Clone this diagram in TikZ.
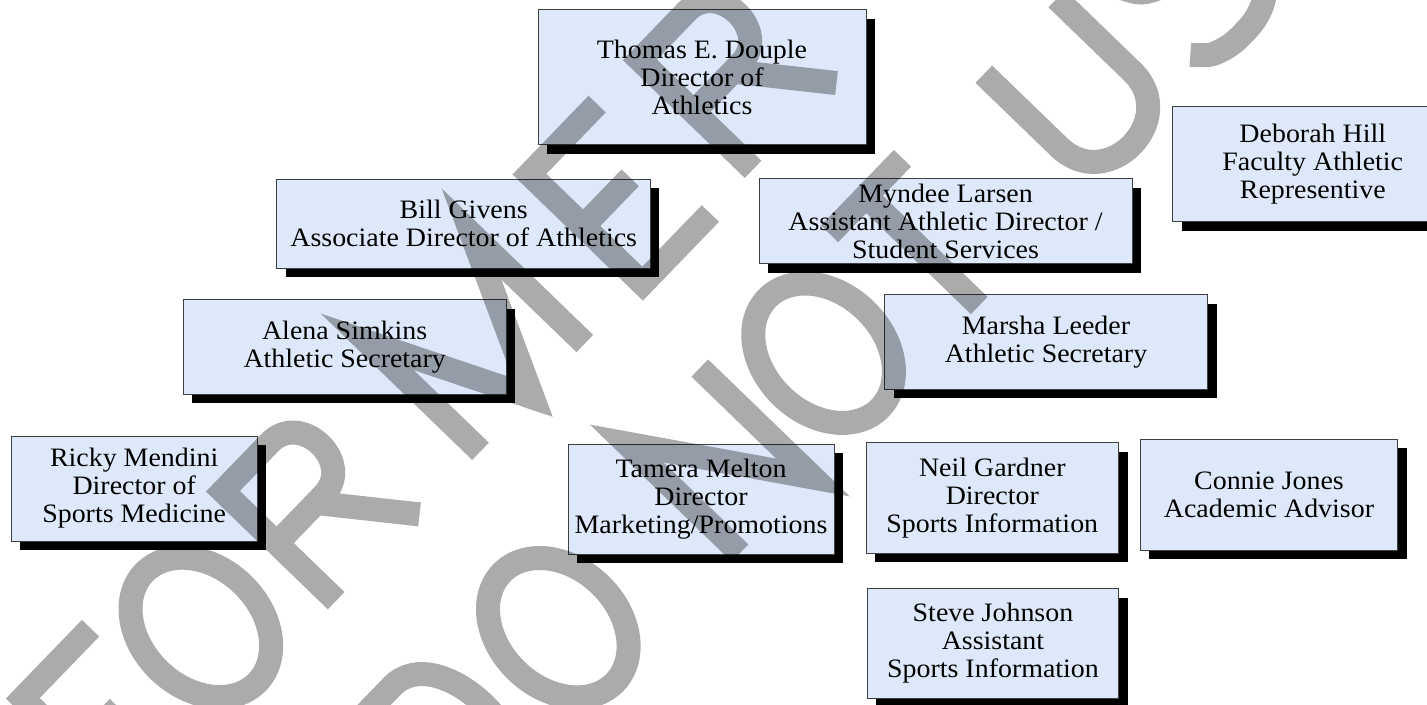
\documentclass[tikz,border=0pt]{standalone}
\usepackage{fontspec}
\setmainfont{Liberation Serif}[FakeStretch=1.05]
\usetikzlibrary{shadows}
\definecolor{boxblue}{RGB}{221,233,250}
\pgfdeclarelayer{background}
\pgfsetlayers{background,main}

\def \formerline {F/-84.4,O/-68.1,R/-46,M/-17.3,E/12.8,R/34}
\def \donotuseline {D/-56,O/-35,N/-4,O/15.9,T/37.9,U/64.5,S/86.5,E/106.5}

% stroke letters of the watermark, cap height 21
\newcommand\wmF{\draw[wmark] (4,0) -- (4,21) -- (17,21) (4,11) -- (12,11);}
\newcommand\wmO{\draw[wmark] (11,10.5) ellipse [x radius=8, y radius=10.5];}
\newcommand\wmR{\draw[wmark] (4,0) -- (4,21) -- (13,21) .. controls (19,21) and (19,11) .. (13,11) -- (4,11) (11.5,11) -- (20,0);}
\newcommand\wmM{\draw[wmark] (3,0) -- (3,21) -- (13,0) -- (23,21) -- (23,0);}
\newcommand\wmE{\draw[wmark] (17,21) -- (4,21) -- (4,0) -- (17,0) (4,11) -- (13,11);}
\newcommand\wmD{\draw[wmark] (4,0) -- (4,21) -- (11,21) .. controls (20,21) and (20,0) .. (11,0) -- cycle;}
\newcommand\wmN{\draw[wmark] (4,0) -- (4,21) -- (18,0) -- (18,21);}
\newcommand\wmT{\draw[wmark] (8,0) -- (8,21) (1,21) -- (15,21);}
\newcommand\wmU{\draw[wmark] (4,21) -- (4,7) .. controls (4,-2) and (18,-2) .. (18,7) -- (18,21);}
\newcommand\wmS{\draw[wmark] plot[smooth] coordinates {(17,18) (15,20) (12,21) (8,21) (5,20) (3,18) (3,16) (4,14) (5,13) (7,12) (13,10) (15,9) (16,8) (17,6) (17,3) (15,1) (12,0) (8,0) (5,1) (3,3)};}

\begin{document}
\begin{tikzpicture}
   [x=0.5pt, y=-0.5pt,
   staff/.style={draw=black!75, fill=boxblue, line width=0.5pt, align=center, inner sep=0pt,
      font=\fontsize{13.3}{14}\selectfont,
      drop shadow={shadow xshift=4.5pt, shadow yshift=-4.5pt, fill=black, opacity=1}},
   link/.style={draw=black!65, line width=0.6pt},
   dotlink/.style={draw=black, line width=0.8pt, dash pattern=on 1pt off 0.7pt},
   dashlink/.style={draw=black, line width=0.9pt, dash pattern=on 16pt off 5pt on 3pt off 5pt},
   wmark/.style={draw=black, opacity=0.33, line width=12pt, line cap=butt, line join=miter}]
\useasboundingbox (0,0) rectangle (1427,705);
\fill[white] (0,0) rectangle (1427,705);
\clip (0,0) rectangle (1427,705);

\node[staff, minimum width=164pt, minimum height=67.5pt] (douple) at (702,77.5) {Thomas E. Douple\\Director of\\Athletics};
\node[staff, minimum width=186.75pt, minimum height=44.5pt] (givens) at (463.7,223.7) {Bill Givens\\Associate Director of Athletics};
\node[staff, minimum width=186.5pt, minimum height=42.5pt] (larsen) at (945.5,221.5) {Myndee Larsen\\Assistant Athletic Director /\\Student Services};
\node[staff, minimum width=140.25pt, minimum height=57.5pt] (hill) at (1312.75,164.5) {Deborah Hill\\Faculty Athletic\\Representive};
\node[staff, minimum width=161.5pt, minimum height=47pt] (simkins) at (344.7,347) {Alena Simkins\\Athletic Secretary};
\node[staff, minimum width=161.5pt, minimum height=47pt] (leeder) at (1046,342) {Marsha Leeder\\Athletic Secretary};
\node[staff, minimum width=122.8pt, minimum height=52.5pt] (mendini) at (134.2,488.5) {Ricky Mendini\\Director of\\Sports Medicine};
\node[staff, minimum width=133pt, minimum height=55pt] (melton) at (701,499) {Tamera Melton\\Director\\Marketing/Promotions};
\node[staff, minimum width=126.3pt, minimum height=55.3pt] (gardner) at (992.3,498) {Neil Gardner\\Director\\Sports Information};
\node[staff, minimum width=125.6pt, minimum height=54.7pt] (johnson) at (993,643.4) {Steve Johnson\\Assistant\\Sports Information};
\node[staff, minimum width=128.6pt, minimum height=55.5pt] (jones) at (1269,494.8) {Connie Jones\\Academic Advisor};

\coordinate (mendiniin) at ([xshift=-5.5pt]mendini.north);
\coordinate (larsenout) at ([yshift=-10pt]larsen.east);
\coordinate (jonesin) at ([xshift=8pt]jones.north);
\coordinate (nsplit) at (704,416);
\coordinate (gardnerin) at ([xshift=-3pt]gardner.north);
\coordinate (gardnerout) at ([xshift=-3pt]gardner.south);

\begin{pgfonlayer}{background}
\draw[link] (douple.south) -- (douple.south |- melton.north);
\draw[link, draw=black] (givens.east) -- (givens.east -| larsen.west);
\draw[link] (givens.west) -| (mendiniin);
\draw[link] (larsenout) -| (jonesin);
\draw[link] (jonesin |- larsenout) -- ++(0,-4);
\draw[link] (nsplit) -| (gardnerin);
\draw[link] (gardnerin |- nsplit) -- ++(0,-4);
\draw[link] (gardnerout) -- (gardnerout |- johnson.north);
\draw[dotlink] (simkins.east) -- (simkins.east -| leeder.west);
\draw[dashlink] ([yshift=-14pt]douple.east) -- (hill.west);
\end{pgfonlayer}

% watermark, baseline rotated 46 degrees
\begin{scope}[shift={(740,553)}, x={(2.606pt,2.696pt)}, y={(-2.696pt,2.606pt)}]
\foreach \ch / \at in \formerline {
   \begin{scope}[shift={(\at,34.3)}] \csname wm\ch\endcsname \end{scope} }
\foreach \ch / \at in \donotuseline {
   \begin{scope}[shift={(\at,0)}] \csname wm\ch\endcsname \end{scope} }
\end{scope}
\end{tikzpicture}
\end{document}
